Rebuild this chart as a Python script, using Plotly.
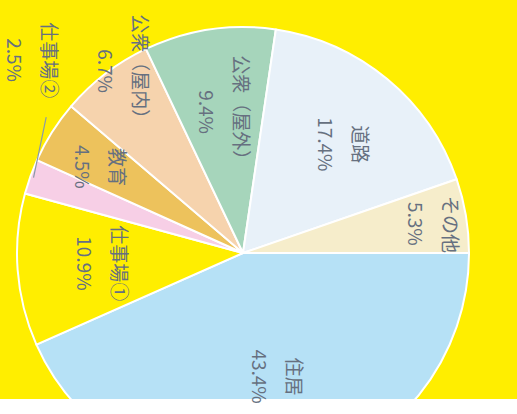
import math
import plotly.graph_objects as go

# ---- data ----
labels = ["住居", "仕事場①", "仕事場②", "教育", "公衆（屋内）", "公衆（屋外）", "道路", "その他"]
values = [43.4, 10.9, 2.5, 4.5, 6.7, 9.4, 17.4, 5.3]
pct_text = ["43.4%", "10.9%", "2.5%", "4.5%", "6.7%", "9.4%", "17.4%", "5.3%"]

# ---- style ----
colors = ["#b6e1f6", "#ffee00", "#f7cfe6", "#edc25c", "#f6d3ad", "#a6d5bb", "#e8f1f9", "#f6edcb"]
label_r = [0.57, 0.62, None, 0.73, 0.96, 0.63, 0.66, 0.86]
label_da = [-4, 0, 0, -1, 4.5, 1.5, 3.5, 1]  # angular nudge of label (deg)
text_color = "#667080"
FONT = "Noto Sans CJK JP"
FS = 19

W, H = 517, 480
CX, CY, R = 243, 253, 226  # pixel geometry of the pie
dom_x = [(CX - R) / W, (CX + R) / W]
dom_y = [1 - (CY + R) / H, 1 - (CY - R) / H]

fig = go.Figure(go.Pie(
    labels=labels, values=values, sort=False, direction="clockwise", rotation=90,
    marker=dict(colors=colors, line=dict(color="white", width=2)),
    textinfo="none", hoverinfo="label+percent", showlegend=False,
    domain=dict(x=dom_x, y=dom_y),
))

def px2paper(x, y):
    return x / W, 1 - y / H

total = sum(values)
cum = 0.0
annotations = []
for i, (lab, v) in enumerate(zip(labels, values)):
    mid = 90 + (cum + v / 2) / total * 360  # compass degrees, clockwise from top
    cum += v
    if label_r[i] is None:
        th = math.radians(mid)
        # small slice: leader line from slice edge, label outside
        tx, ty = CX + R * 0.985 * math.sin(th), CY - R * 0.985 * math.cos(th)
        ex, ey = tx + 13, ty - 62
        px_, py_ = px2paper(tx, ty)
        annotations.append(dict(x=px_, y=py_, xref="paper", yref="paper", text="",
                                showarrow=True, arrowhead=0, arrowwidth=1.2,
                                arrowcolor="#8a9aa8", ax=ex - tx, ay=ey - ty))
        bx, by = tx, ty - 118
    else:
        th = math.radians(mid + label_da[i])
        bx = CX + R * label_r[i] * math.sin(th)
        by = CY - R * label_r[i] * math.cos(th)
    qx, qy = px2paper(bx, by)
    for txt, sh in ((lab, 17), (pct_text[i], -18)):
        annotations.append(dict(x=qx, y=qy, xref="paper", yref="paper", text=txt,
                                textangle=90, showarrow=False, xshift=sh,
                                xanchor="center", yanchor="middle",
                                font=dict(family=FONT, size=FS, color=text_color)))

fig.update_layout(
    width=W, height=H,
    margin=dict(l=0, r=0, t=0, b=0),
    paper_bgcolor="#ffee00", plot_bgcolor="#ffee00",
    annotations=annotations,
    shapes=[dict(type="rect", xref="paper", yref="paper", x0=0, x1=1,
                 y0=0, y1=1 - 399 / H, fillcolor="white", line=dict(width=0), layer="above")],
)

fig.write_html("out.html", post_script="document.body.style.overflow='hidden';document.body.style.margin='0';")
